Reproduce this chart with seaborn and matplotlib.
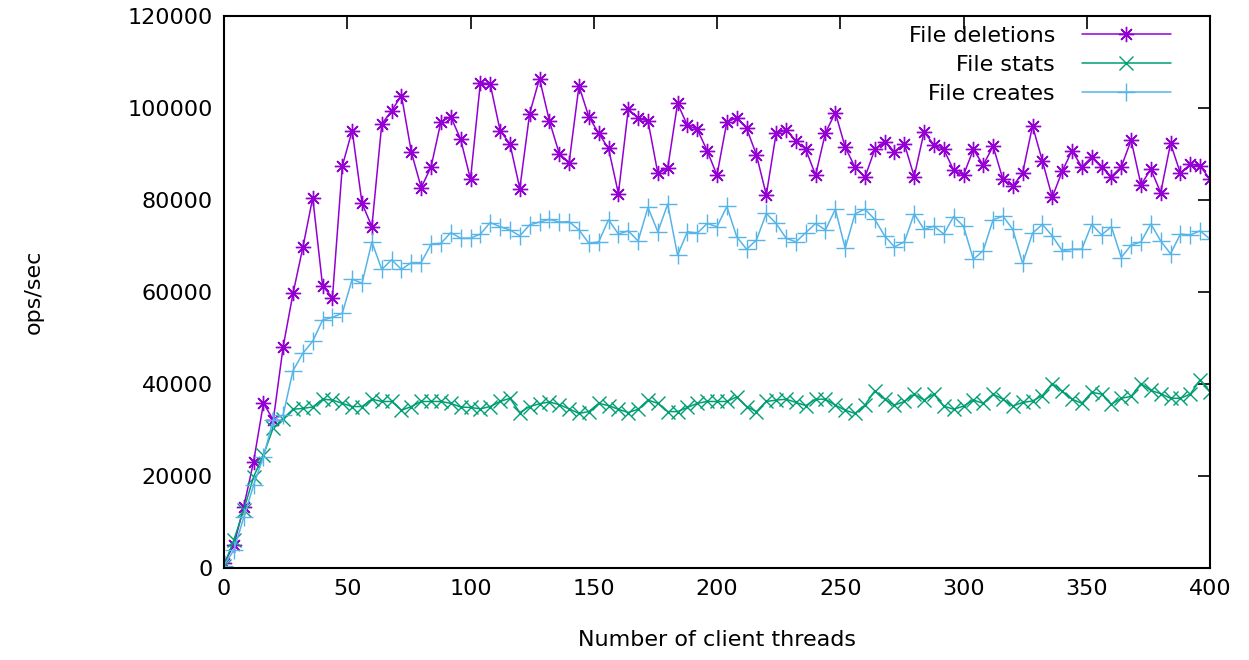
import pandas as pd
import seaborn as sns
import matplotlib.pyplot as plt

# thread counts on the x axis
threads = [0, 4, 8, 12, 16, 20, 24, 28, 32, 36, 40, 44, 48, 52, 56, 60, 64, 68, 72, 76,
           80, 84, 88, 92, 96, 100, 104, 108, 112, 116, 120, 124, 128, 132, 136, 140, 144, 148, 152, 156,
           160, 164, 168, 172, 176, 180, 184, 188, 192, 196, 200, 204, 208, 212, 216, 220, 224, 228, 232, 236,
           240, 244, 248, 252, 256, 260, 264, 268, 272, 276, 280, 284, 288, 292, 296, 300, 304, 308, 312, 316,
           320, 324, 328, 332, 336, 340, 344, 348, 352, 356, 360, 364, 368, 372, 376, 380, 384, 388, 392, 396,
           400]

deletions = [1000, 5000, 13300, 23100, 35800, 32200, 48100, 59700, 69700, 80500,
             61300, 58800, 87400, 95100, 79300, 74200, 96500, 99400, 102700, 90400,
             82700, 87200, 97000, 98100, 93200, 84500, 105500, 105200, 95100, 92200,
             82500, 98800, 106400, 97200, 90100, 88100, 104800, 98100, 94500, 91200,
             81400, 99700, 97800, 97200, 85800, 86900, 101000, 96200, 95400, 90700,
             85400, 97000, 97800, 95600, 89800, 81100, 94500, 95200, 92900, 91000,
             85400, 94600, 99000, 91500, 87100, 84900, 91000, 92700, 90500, 92200,
             85100, 94800, 92000, 91000, 86500, 85400, 91000, 87600, 91700, 84500,
             83000, 85900, 96100, 88500, 80600, 86200, 90700, 87200, 89300, 87100,
             85100, 87200, 93000, 83300, 86700, 81600, 92300, 85800, 87800, 87400,
             84500]

stats = [500, 6100, 12600, 19800, 24600, 30500, 32500, 34500, 34700, 35000,
         36700, 36500, 35800, 35100, 35100, 36700, 36200, 36200, 34300, 35100,
         36200, 36200, 36200, 35800, 35000, 34900, 34600, 35100, 36200, 36900,
         33800, 35100, 35700, 36100, 35500, 34600, 33600, 34000, 35800, 35300,
         34500, 33800, 34500, 36500, 35800, 34000, 34000, 34900, 35800, 36200,
         36200, 36200, 37200, 35100, 34000, 36200, 36500, 36700, 36000, 35300,
         36700, 36700, 35400, 34300, 33600, 35400, 38500, 36700, 35400, 36200,
         37800, 36500, 37800, 35200, 34500, 35200, 36500, 35800, 37800, 36700,
         35200, 36000, 36300, 37500, 40100, 38400, 36700, 35800, 38200, 37800,
         35600, 36900, 37300, 40100, 38600, 37900, 36900, 36900, 37800, 40900,
         38300]

creates = [500, 3900, 11000, 18000, 24200, 32200, 33300, 42900, 46700, 49300,
           53900, 54500, 55400, 62800, 61900, 70900, 64900, 67000, 64900, 66400,
           66400, 70400, 70600, 72900, 71700, 71700, 72600, 75100, 74200, 73500,
           72200, 74600, 75200, 75800, 75200, 75300, 73500, 70600, 70900, 75700,
           72600, 73300, 71100, 78400, 73100, 79100, 68000, 73100, 72800, 74900,
           74200, 78600, 72000, 69300, 71300, 77100, 74900, 71700, 70900, 72900,
           74900, 73500, 78000, 69500, 77000, 78000, 75800, 72200, 69800, 70900,
           77000, 73600, 74300, 72600, 76400, 74300, 67100, 69000, 75700, 76500,
           73600, 66200, 72800, 74700, 72200, 69000, 69300, 69300, 74700, 72400,
           74200, 67500, 70200, 70900, 74800, 71100, 68300, 72600, 72400, 73300,
           71500]

df = pd.DataFrame({"threads": threads, "deletions": deletions,
                   "stats": stats, "creates": creates})

sns.set_style("white")
plt.rcParams["font.family"] = ["DejaVu Sans"]
plt.rcParams["text.color"] = "black"
plt.rcParams["axes.labelcolor"] = "black"

fig = plt.figure(figsize=(12.49, 6.6), dpi=100)
ax = fig.add_axes([224 / 1249, 1 - 568 / 660, (1210 - 224) / 1249, (568 - 16) / 660])

series = [("deletions", "File deletions", "#9400D3", (8, 2, 0), 11),
          ("stats", "File stats", "#009E73", "x", 10),
          ("creates", "File creates", "#56B4E9", "+", 13)]
for col, name, c, m, ms in series:
    sns.lineplot(data=df, x="threads", y=col, ax=ax, color=c, marker=m,
                 markersize=ms, markeredgewidth=1.0, markeredgecolor=c,
                 markerfacecolor=c, linewidth=1.1, label=name)

ax.set_xlim(0, 400)
ax.set_ylim(0, 120000)
ax.set_xticks(range(0, 401, 50))
ax.set_yticks(range(0, 120001, 20000))
ax.tick_params(direction="in", length=9, width=1.2, top=True, right=True,
               labelsize=16, colors="black", pad=8)
for s in ax.spines.values():
    s.set_color("black")
    s.set_linewidth(1.5)

ax.set_xlabel("Number of client threads", fontsize=16, labelpad=22)
ax.set_ylabel("ops/sec", fontsize=16, labelpad=60)

ax.legend(loc="upper right", bbox_to_anchor=(1 - 26 / 986, 1.006), frameon=False,
          markerfirst=False, fontsize=16, handlelength=4.0, handletextpad=1.2,
          labelspacing=0.4, borderaxespad=0.2)

plt.savefig("out.png", dpi=100)
